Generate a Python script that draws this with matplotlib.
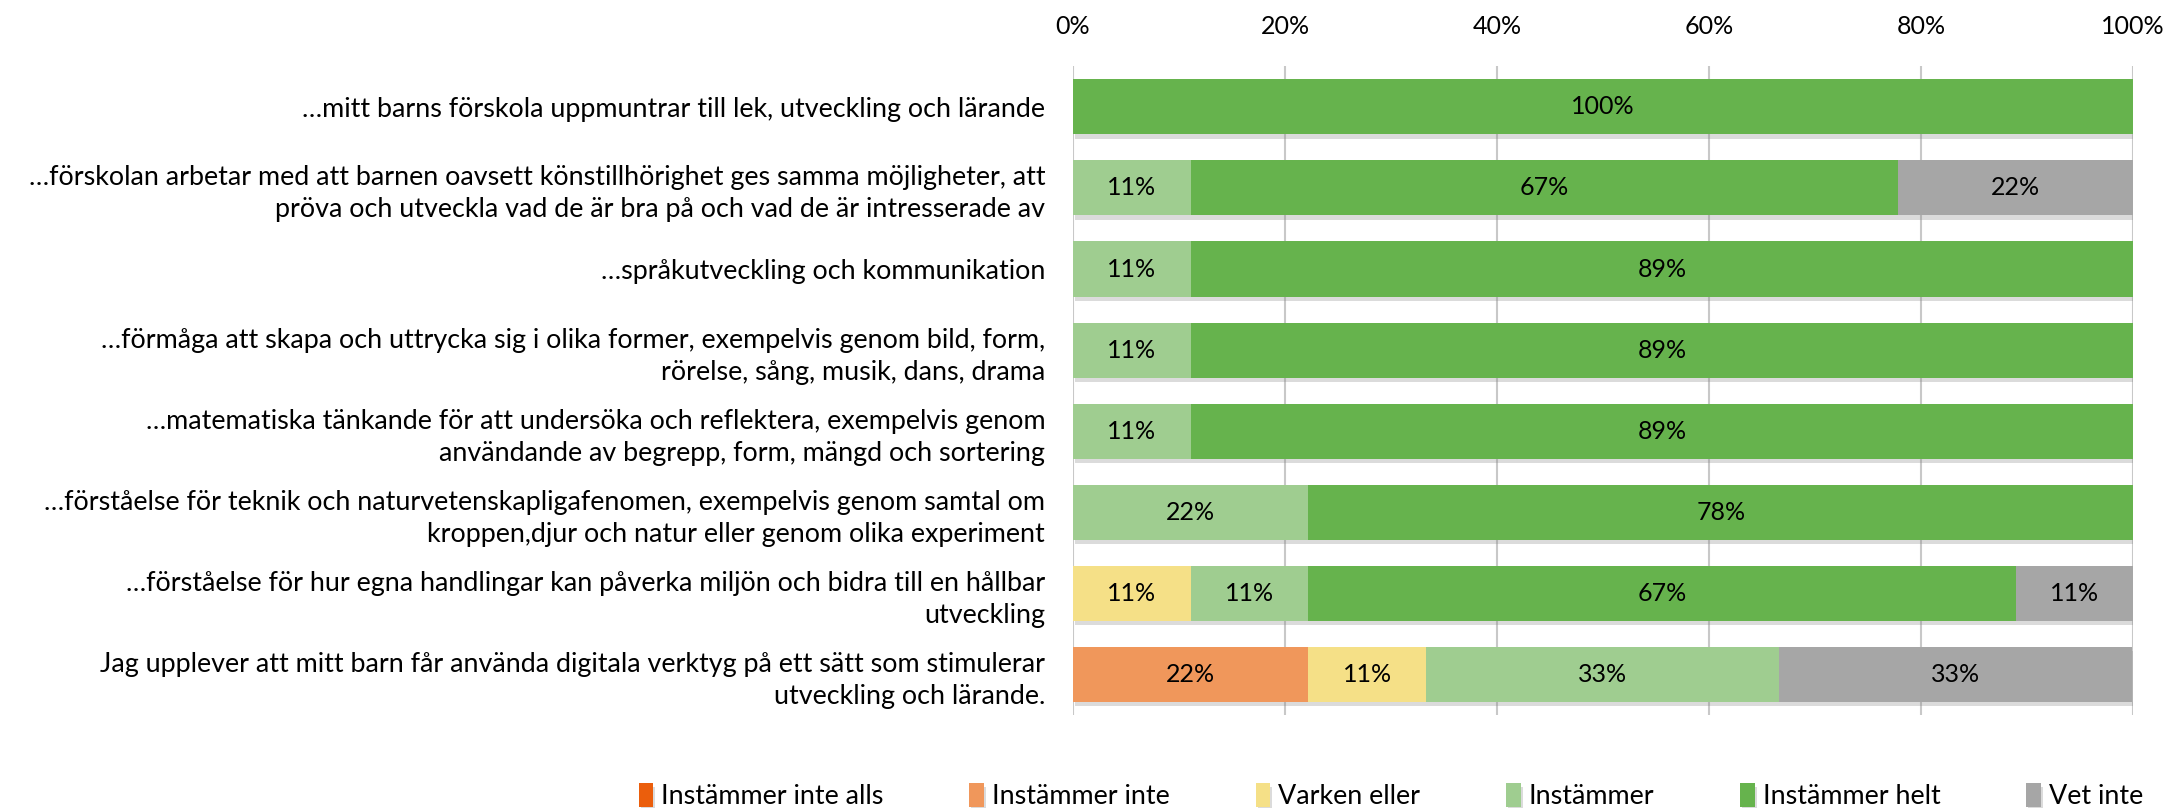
import matplotlib
matplotlib.use("Agg")
import matplotlib.pyplot as plt
import matplotlib.patheffects as pe
from matplotlib.ticker import FuncFormatter
import numpy as np

plt.rcParams['font.family'] = ['Lato', 'DejaVu Sans']

questions = [
    "…mitt barns förskola uppmuntrar till lek, utveckling och lärande",
    "…förskolan arbetar med att barnen oavsett könstillhörighet ges samma möjligheter, att\npröva och utveckla vad de är bra på och vad de är intresserade av",
    "…språkutveckling och kommunikation",
    "…förmåga att skapa och uttrycka sig i olika former, exempelvis genom bild, form,\nrörelse, sång, musik, dans, drama",
    "…matematiska tänkande för att undersöka och reflektera, exempelvis genom\nanvändande av begrepp, form, mängd och sortering",
    "…förståelse för teknik och naturvetenskapligafenomen, exempelvis genom samtal om\nkroppen,djur och natur eller genom olika experiment",
    "…förståelse för hur egna handlingar kan påverka miljön och bidra till en hållbar\nutveckling",
    "Jag upplever att mitt barn får använda digitala verktyg på ett sätt som stimulerar\nutveckling och lärande.",
]
answers = ["Instämmer inte alls", "Instämmer inte", "Varken eller",
           "Instämmer", "Instämmer helt", "Vet inte"]
colors = ["#EB5E0C", "#F0975B", "#F5E087", "#9FCD90", "#66B34D", "#A6A6A6"]

inte_alls = [0, 0, 0, 0, 0, 0, 0, 0]
inte      = [0, 0, 0, 0, 0, 0, 0, 22.2]
varken    = [0, 0, 0, 0, 0, 0, 11.1, 11.1]
instammer = [0, 11.1, 11.1, 11.1, 11.1, 22.2, 11.1, 33.3]
helt      = [100, 66.7, 88.9, 88.9, 88.9, 77.8, 66.7, 0]
vet_inte  = [0, 22.2, 0, 0, 0, 0, 11.1, 33.3]
series = [inte_alls, inte, varken, instammer, helt, vet_inte]

fs = 18    # numbers
fs_txt = 19.4  # category labels and legend
fig = plt.figure(figsize=(21.71, 8.08), dpi=100)
ax = fig.add_axes([0.4942, 0.115, 0.4884, 0.803])

y = np.arange(len(questions))
left = np.zeros(len(questions))
shadow = [pe.SimplePatchShadow(offset=(1.5, -3), shadow_rgbFace="#888888", alpha=0.3), pe.Normal()]
for vals, name, col in zip(series, answers, colors):
    vals = np.array(vals, dtype=float)
    bars = ax.barh(y, vals, left=left, height=0.68, color=col, label=name, zorder=3)
    for b in bars:
        b.set_path_effects(shadow)
    for yi, v, l in zip(y, vals, left):
        if v > 0:
            ax.text(l + v / 2, yi, f"{round(v)}%", ha="center", va="center",
                    fontsize=fs, color="black", zorder=4)
    left += vals

ax.set_xlim(0, 100)
ax.set_ylim(len(questions) - 0.5, -0.5)
ax.set_xticks(np.arange(0, 101, 20))
ax.xaxis.set_major_formatter(FuncFormatter(lambda v, p: f"{int(v)}%"))
ax.xaxis.tick_top()
ax.tick_params(axis="x", length=0, pad=20, labelsize=fs)
ax.set_yticks(y)
ax.set_yticklabels(questions, fontsize=fs_txt, linespacing=1.35)
ax.tick_params(axis="y", length=0, pad=20)
ax.grid(axis="x", color="#C8C8C8", linewidth=1.5, zorder=0)
for s in ax.spines.values():
    s.set_visible(False)

# legend: stretch column spacing so it spans the same width as in the original
handles, labels = ax.get_legend_handles_labels()
ypos = 1 - 796 / 808
target_left, target_right = 652, 2157
leg_kw = dict(loc="center right", ncol=6, bbox_to_anchor=(target_right / 2171, ypos),
              frameon=False, fontsize=fs_txt, handlelength=0.55, handleheight=1.0,
              handletextpad=0.3, borderpad=0)
leg = fig.legend(handles, labels, columnspacing=0, **leg_kw)
fig.canvas.draw()
w0 = leg.get_window_extent().width
cs = (target_right - target_left - w0) / 5 / (fs_txt * 100 / 72)
leg.remove()
fig.legend(handles, labels, columnspacing=cs, **leg_kw)

fig.savefig("out.png", dpi=100)
